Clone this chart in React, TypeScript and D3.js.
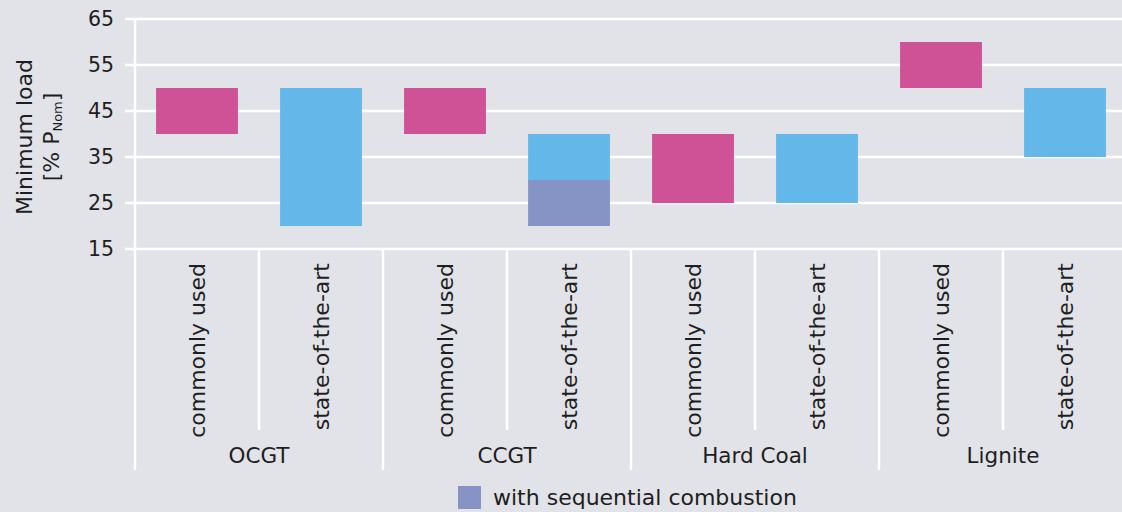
import { useEffect, useRef } from 'react'
import * as d3 from 'd3'

const groups = ['OCGT', 'CCGT', 'Hard Coal', 'Lignite']
const variants = ['commonly used', 'state-of-the-art']
// one entry per bar: OCGT cu, OCGT sota, CCGT cu, CCGT sota, ...
const lowValues = [40, 20, 40, 30, 25, 25, 50, 35]
const highValues = [50, 50, 50, 40, 40, 40, 60, 50]
// sequential combustion part (CCGT state-of-the-art only)
const seqLow = [null, null, null, 20, null, null, null, null]
const seqHigh = [null, null, null, 30, null, null, null, null]
const yTicks = [15, 25, 35, 45, 55, 65]

const variantColors = ['#cf5196', '#63b8e9']
const seqColor = '#8594c4'
const bg = '#e2e3e8'
const textColor = '#1e1e1e'

export default function App() {
  const svgRef = useRef<SVGSVGElement>(null)
  const width = 1122
  const height = 512

  useEffect(() => {
    document.body.style.margin = '0'
    if (!svgRef.current) return
    const svg = d3.select(svgRef.current)
    svg.selectAll('*').remove()

    const font = '"DejaVu Sans", sans-serif'
    const fs = 22
    const left = 135
    const step = 124

    const bars = groups.flatMap((g) => variants.map((v) => `${g}|${v}`))
    const x = d3
      .scaleBand<string>()
      .domain(bars)
      .range([left, left + step * bars.length])
      .padding(0)
    const y = d3.scaleLinear().domain([15, 65]).range([249, 19])

    svg.append('rect').attr('width', width).attr('height', height).attr('fill', bg)

    // gridlines
    svg
      .append('g')
      .selectAll('line')
      .data(yTicks)
      .enter()
      .append('line')
      .attr('x1', left - 10)
      .attr('x2', width)
      .attr('y1', (d) => y(d))
      .attr('y2', (d) => y(d))
      .attr('stroke', '#fff')
      .attr('stroke-width', 2.5)

    // y tick labels
    svg
      .append('g')
      .selectAll('text')
      .data(yTicks)
      .enter()
      .append('text')
      .attr('x', left - 21)
      .attr('y', (d) => y(d))
      .attr('dy', '0.36em')
      .attr('text-anchor', 'end')
      .attr('font-family', font)
      .attr('font-size', 20.5)
      .attr('fill', textColor)
      .text((d) => d)

    // vertical dividers
    const bw = x.bandwidth()
    bars.forEach((b, i) => {
      const xx = x(b) || 0
      const isGroupStart = i % 2 === 0
      svg
        .append('line')
        .attr('x1', xx)
        .attr('x2', xx)
        .attr('y1', i === 0 ? y(65) : y(15))
        .attr('y2', isGroupStart ? 470 : 430)
        .attr('stroke', '#fff')
        .attr('stroke-width', 2.5)
    })

    // bars
    const barW = bw * 0.66
    const off = (bw - barW) / 2
    svg
      .append('g')
      .selectAll('rect')
      .data(bars)
      .enter()
      .append('rect')
      .attr('x', (d) => (x(d) || 0) + off)
      .attr('y', (_, i) => y(highValues[i]))
      .attr('width', barW)
      .attr('height', (_, i) => y(lowValues[i]) - y(highValues[i]))
      .attr('fill', (_, i) => variantColors[i % 2])

    svg
      .append('g')
      .selectAll('rect')
      .data(bars.filter((_, i) => seqLow[i] != null))
      .enter()
      .append('rect')
      .attr('x', (d) => (x(d) || 0) + off)
      .attr('y', (d) => y(seqHigh[bars.indexOf(d)] as number))
      .attr('width', barW)
      .attr(
        'height',
        (d) => y(seqLow[bars.indexOf(d)] as number) - y(seqHigh[bars.indexOf(d)] as number)
      )
      .attr('fill', seqColor)

    // variant labels (rotated)
    svg
      .append('g')
      .selectAll('text')
      .data(bars)
      .enter()
      .append('text')
      .attr('transform', (d) => `translate(${(x(d) || 0) + bw / 2},263) rotate(-90)`)
      .attr('dy', '0.36em')
      .attr('text-anchor', 'end')
      .attr('font-family', font)
      .attr('font-size', fs)
      .attr('fill', textColor)
      .text((d) => d.split('|')[1])

    // group labels
    svg
      .append('g')
      .selectAll('text')
      .data(groups)
      .enter()
      .append('text')
      .attr('x', (d) => (x(`${d}|${variants[0]}`) || 0) + bw)
      .attr('y', 463)
      .attr('text-anchor', 'middle')
      .attr('font-family', font)
      .attr('font-size', 21.5)
      .attr('fill', textColor)
      .text((d) => d)

    // y axis title
    const title = svg
      .append('text')
      .attr('transform', 'translate(0,137) rotate(-90)')
      .attr('text-anchor', 'middle')
      .attr('font-family', font)
      .attr('font-size', fs)
      .attr('fill', textColor)
    title.append('tspan').attr('x', 0).attr('y', 32).text('Minimum load')
    const l2 = title.append('tspan').attr('x', 0).attr('y', 59)
    l2.append('tspan').text('[% P')
    l2.append('tspan').attr('font-size', 13).attr('dy', 3).text('Nom')
    l2.append('tspan').attr('dy', -3).text(']')

    // legend
    svg
      .append('rect')
      .attr('x', 458)
      .attr('y', 486)
      .attr('width', 23)
      .attr('height', 23)
      .attr('fill', seqColor)
    svg
      .append('text')
      .attr('x', 493)
      .attr('y', 505)
      .attr('font-family', font)
      .attr('font-size', fs)
      .attr('fill', textColor)
      .text('with sequential combustion')
  }, [])

  return <svg ref={svgRef} width={width} height={height} style={{ display: 'block' }} />
}
